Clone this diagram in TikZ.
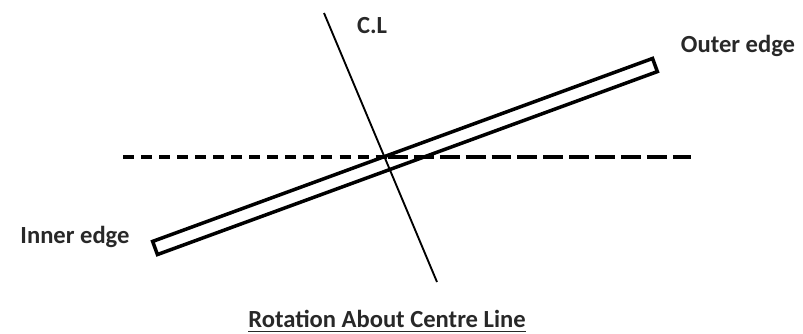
\documentclass[tikz,border=0pt]{standalone}
\usepackage{fontspec}
\setmainfont{Carlito}
\usepackage{tikz}
\usetikzlibrary{calc}
\definecolor{inkgrey}{RGB}{40,40,40}

\begin{document}
\begin{tikzpicture}[x=0.03cm, y=-0.03cm,
    tag/.style={font=\fontsize{21}{25}\selectfont\bfseries, text=inkgrey, inner sep=0pt, anchor=base},
    shortdash/.style={line width=3pt, dash pattern=on 9.4pt off 6pt},
    longdash/.style={line width=3pt, dash pattern=on 17pt off 5.1pt}]
    \useasboundingbox (0,0) rectangle (803,334);

    % Centre line
    \coordinate (cltop) at (324,13);
    \coordinate (clbot) at (437,282);
    \draw[line width=1.6pt] (cltop) -- (clbot);
    \node[tag] (cl) at (372,33) {C.L};

    % Horizontal reference (dashed)
    \coordinate (hleft) at (123,157);
    \coordinate (hmid) at (388,157);
    \coordinate (hright) at (691,157);
    \draw[shortdash] (hleft) -- (hmid);
    \draw[longdash] (hmid) -- (hright);

    % Blade
    \node[draw, line width=3pt, rotate=20.1, minimum width=15.97cm, minimum height=0.42cm, inner sep=0pt] (blade) at (405,156.5) {};
    \node[tag] (outer) at (738,52) {Outer edge};
    \node[tag] (inner) at (75,243) {Inner edge};

    % Caption
    \node[tag] (caption) at (387,327) {Rotation About Centre Line};
    \draw[line width=1.2pt, inkgrey] ([yshift=-4pt]caption.base west) -- ([yshift=-4pt]caption.base east);
\end{tikzpicture}
\end{document}
